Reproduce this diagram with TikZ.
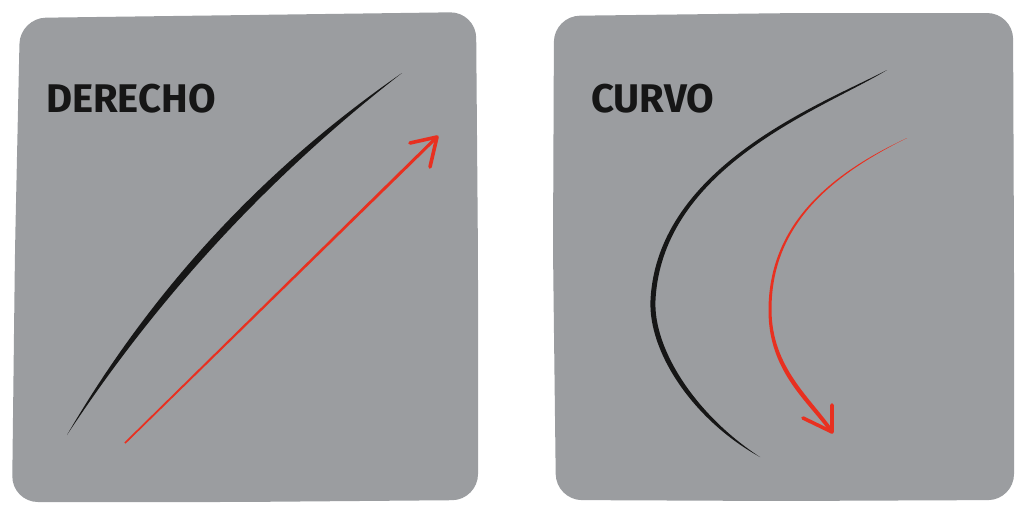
\documentclass[tikz,border=0pt]{standalone}
\usepackage{fontspec}
\setmainfont{Fira Sans}
\definecolor{panelgray}{RGB}{155,157,160}
\definecolor{redarrow}{RGB}{232,48,32}
\definecolor{inkblack}{RGB}{22,22,22}
\begin{document}
\begin{tikzpicture}[x=1pt,y=-1pt,
  panel/.style={fill=panelgray, draw=none, rounded corners=26pt},
  lettering/.style={font=\fontsize{40}{44}\selectfont\bfseries, text=inkblack, anchor=base west, inner sep=0pt},
  ink/.style={fill=inkblack, draw=none},
  redink/.style={fill=redarrow, draw=none},
  barb/.style={draw=redarrow, line width=3.6pt, line cap=round, line join=round},
]
\useasboundingbox (0,0) rectangle (1018,506);
\fill[white] (0,0) rectangle (1018,506);

% panels
\fill[panel] (20,18) -- (250,15) -- (476,12) -- (478,260) -- (478,500) -- (240,502) -- (12,502) -- (15,250) -- cycle;
\fill[panel] (554,16) -- (800,13) -- (1013,13) -- (1014,260) -- (1014,500) -- (780,501) -- (556,500) -- (553,250) -- cycle;

% labels
\node[lettering] (derecho) at (46,112) {DERECHO};
\node[lettering] (curvo) at (591,112) {CURVO};

% left: straight black stroke (tapered)
\coordinate (ls0) at (67,435);
\coordinate (ls1) at (402,73);
\fill[ink] (ls0) .. controls (151.8,289.4) and (263.5,168.7) .. (ls1)
  .. controls (270.3,175.1) and (158.6,295.8) .. (ls0) -- cycle;

% left: red straight arrow
\coordinate (la0) at (125,443);
\coordinate (la1) at (437,137);
\fill[redink] (124.4,442.4) -- (435.9,135.9) -- (438.1,138.1) -- (125.6,443.6) -- cycle;
\draw[barb] (410,143) -- (la1) -- (430,167);

% right: curved black stroke (tapered)
\coordinate (rs0) at (887,70);
\coordinate (rs1) at (760,457);
\fill[ink] (rs0) .. controls (824,103) and (657.5,165) .. (650.5,300)
  .. controls (648,352) and (693,420) .. (rs1)
  .. controls (697,416) and (653,350) .. (655.5,300)
  .. controls (662.5,165) and (826,107.5) .. (rs0) -- cycle;

% right: red curved arrow
\coordinate (ra0) at (907,138);
\coordinate (ra1) at (832,432);
\fill[redink] (ra0) .. controls (829.5,174) and (768.8,225) .. (768.5,310)
  .. controls (768.2,372) and (808.5,401.5) .. (830.4,433)
  -- (833.6,431) .. controls (811.5,398.5) and (771.8,368) .. (771.5,310)
  .. controls (771.2,225) and (830.5,176) .. (ra0) -- cycle;
\draw[barb] (803,418) -- (ra1) -- (832,405);
\end{tikzpicture}
\end{document}
